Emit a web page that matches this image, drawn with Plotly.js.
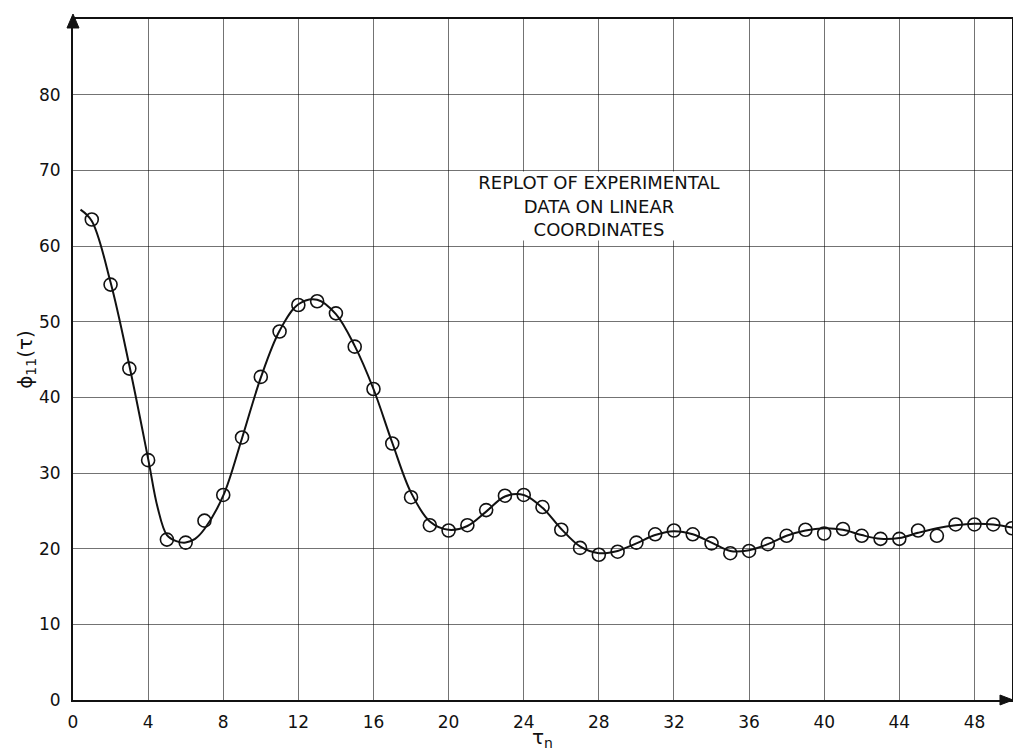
<!DOCTYPE html>
<html>
<head>
<meta charset="utf-8">
<script src="https://cdn.plot.ly/plotly-3.0.1.min.js"></script>
<style>html,body{margin:0;padding:0;background:#fff;}#chart{width:1013px;height:751px;}</style>
</head>
<body>
<div id="chart"></div>
<script>
// Experimental points (tau_n, phi11)
const tauPoints = [1,2,3,4,5,6,7,8,9,10,11,12,13,14,15,16,17,18,19,20,21,22,23,24,25,26,27,28,29,30,31,32,33,34,35,36,37,38,39,40,41,42,43,44,45,46,47,48,49,50];
const phiPoints = [63.5,54.9,43.8,31.7,21.2,20.8,23.7,27.1,34.7,42.7,48.7,52.2,52.7,51.1,46.7,41.1,33.9,26.8,23.1,22.4,23.1,25.1,27.0,27.1,25.5,22.5,20.1,19.2,19.6,20.8,21.9,22.4,21.9,20.7,19.4,19.7,20.6,21.7,22.5,22.0,22.6,21.7,21.3,21.3,22.4,21.7,23.2,23.2,23.2,22.7];

// Smooth fitted curve
const tauCurve = [0.4,1,2,3,4,4.5,5,5.5,6,6.5,7,8,9,10,11,12,13,14,15,16,17,18,19,20,21,22,23,24,25,26,27,28,29,30,31,32,33,34,35,36,37,38,39,40,41,42,43,44,45,46,47,48,49,50];
const phiCurve = [64.8,63.3,55.2,44.2,31.9,25.5,21.8,21.0,20.8,21.3,22.6,27.0,34.6,42.6,48.8,52.3,52.9,51.0,46.8,41.1,34.0,27.4,23.6,22.5,23.0,24.9,26.9,27.1,25.4,22.6,20.3,19.4,19.7,20.7,21.8,22.3,21.9,20.8,19.7,19.8,20.6,21.7,22.4,22.7,22.5,21.8,21.3,21.4,22.1,22.7,23.1,23.3,23.2,22.8];

const xTicks = [0,4,8,12,16,20,24,28,32,36,40,44,48];
const yTicks = [0,10,20,30,40,50,60,70,80];

const noteText = 'REPLOT OF EXPERIMENTAL<br>DATA ON LINEAR<br>COORDINATES';

const FONT = 'DejaVu Sans, Liberation Sans, Arial, sans-serif';

const traces = [
  {
    x: tauCurve, y: phiCurve, type: 'scatter', mode: 'lines',
    line: {color: '#111', width: 2, shape: 'spline', smoothing: 1},
    hoverinfo: 'skip', showlegend: false
  },
  {
    x: tauPoints, y: phiPoints, type: 'scatter', mode: 'markers',
    marker: {symbol: 'circle-open', size: 13, color: '#111', line: {color: '#111', width: 1.6}},
    cliponaxis: false, showlegend: false
  }
];

const layout = {
  width: 1013, height: 751,
  margin: {l: 73, r: 1, t: 19, b: 51},
  paper_bgcolor: '#fff', plot_bgcolor: '#fff',
  font: {family: FONT, color: '#111', size: 17},
  showlegend: false,
  xaxis: {
    range: [0, 50], tickvals: xTicks, ticktext: xTicks.map(String),
    showgrid: true, gridcolor: 'rgba(0,0,0,0.55)', gridwidth: 1,
    zeroline: false, showline: true, mirror: true, linecolor: '#111', linewidth: 2,
    ticks: '', ticklabelstandoff: 6,
    tickfont: {family: FONT, size: 17, color: '#111'},
    title: {text: 'τ<sub>n</sub>', font: {family: FONT, size: 20, color: '#111'}, standoff: 6}
  },
  yaxis: {
    range: [0, 90], tickvals: yTicks, ticktext: yTicks.map(String),
    showgrid: true, gridcolor: 'rgba(0,0,0,0.55)', gridwidth: 1,
    zeroline: false, showline: true, mirror: true, linecolor: '#111', linewidth: 2,
    ticks: '', ticklabelstandoff: 7,
    tickfont: {family: FONT, size: 17, color: '#111'},
    title: {text: 'ϕ<sub>11</sub>(τ)', font: {family: FONT, size: 20, color: '#111'}, standoff: 0}
  },
  annotations: [
    {
      x: 28, y: 65.3, xref: 'x', yref: 'y', text: noteText, showarrow: false,
      font: {family: FONT, size: 18, color: '#111'},
      align: 'center', bgcolor: '#fff', width: 280, height: 68, borderpad: 0
    }
  ],
  shapes: [
    {type: 'path', xref: 'paper', yref: 'paper',
     path: 'M -0.0064 0.9868 L 0 1.0073 L 0.0064 0.9868 Z',
     fillcolor: '#111', line: {color: '#111', width: 1}},
    {type: 'path', xref: 'paper', yref: 'paper',
     path: 'M 0.9872 0.0073 L 1.0011 0 L 0.9872 -0.0073 Z',
     fillcolor: '#111', line: {color: '#111', width: 1}}
  ]
};

Plotly.newPlot('chart', traces, layout, {displayModeBar: false, staticPlot: true});
</script>
</body>
</html>
